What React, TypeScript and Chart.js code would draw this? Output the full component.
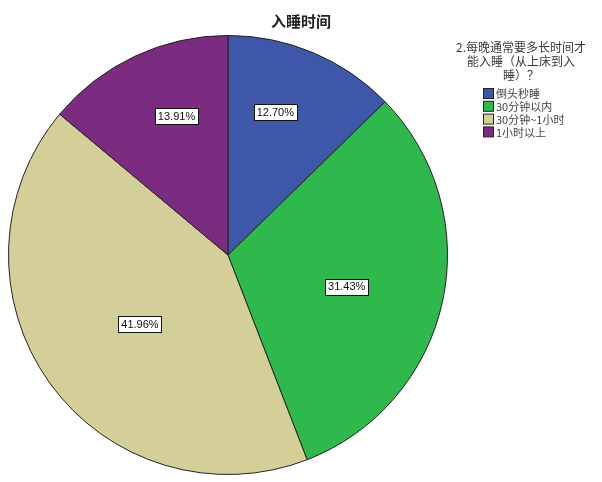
import React, { useEffect, useRef } from "react";
import { Chart, registerables } from "chart.js";

Chart.register(...registerables);

const chartTitle = "入睡时间";
const legendTitleLines = ["2.每晚通常要多长时间才", "能入睡（从上床到入", "睡）？"];
const categories = ["倒头秒睡", "30分钟以内", "30分钟~1小时", "1小时以上"];
const percents = [12.7, 31.43, 41.96, 13.91];
const colors = ["#3f57a8", "#2fb84c", "#d4cf99", "#7b2b80"];

const overlayPlugin = {
  id: "overlay",
  afterDatasetsDraw(chart: any, _args: any, opts: any) {
    const ctx = chart.ctx as CanvasRenderingContext2D;
    const meta = chart.getDatasetMeta(0);
    const radii: number[] = opts.labelRadius || [];
    const shifts: number[] = opts.labelAngleShift || [];
    ctx.save();
    ctx.font = "11px 'Liberation Sans', Arial, sans-serif";
    ctx.textAlign = "center";
    ctx.textBaseline = "middle";
    meta.data.forEach((arc: any, i: number) => {
      const p = arc.getProps(["x", "y", "startAngle", "endAngle", "outerRadius"], true);
      const mid = (p.startAngle + p.endAngle) / 2 + ((shifts[i] ?? 0) * Math.PI) / 180;
      const r = p.outerRadius * (radii[i] ?? 0.6);
      const cx = p.x + Math.cos(mid) * r;
      const cy = p.y + Math.sin(mid) * r;
      const text = percents[i].toFixed(2) + "%";
      const w = ctx.measureText(text).width + 6;
      const h = 16;
      ctx.fillStyle = "#ffffff";
      ctx.fillRect(Math.round(cx - w / 2) + 0.5, Math.round(cy - h / 2) + 0.5, Math.round(w), h);
      ctx.strokeStyle = "#111111";
      ctx.lineWidth = 1;
      ctx.strokeRect(Math.round(cx - w / 2) + 0.5, Math.round(cy - h / 2) + 0.5, Math.round(w), h);
      ctx.fillStyle = "#111111";
      ctx.fillText(text, cx, cy + 0.5);
    });
    ctx.restore();
  },
  afterDraw(chart: any) {
    const ctx = chart.ctx as CanvasRenderingContext2D;
    ctx.save();
    // Title
    ctx.fillStyle = "#222222";
    ctx.font = "bold 15px 'Noto Sans CJK SC', sans-serif";
    ctx.textAlign = "center";
    ctx.textBaseline = "middle";
    ctx.fillText(chartTitle, chart.width / 2, 21);
    // Legend title
    ctx.fillStyle = "#3a3a3a";
    ctx.font = "12px 'Noto Sans CJK SC', sans-serif";
    legendTitleLines.forEach((line, i) => {
      ctx.fillText(line, 521, 47 + i * 14);
    });
    // Legend items
    ctx.textAlign = "left";
    ctx.font = "11px 'Noto Sans CJK SC', sans-serif";
    categories.forEach((c, i) => {
      const y = 94 + i * 12.8;
      ctx.fillStyle = colors[i];
      ctx.fillRect(483.5, y - 5.5, 10, 10);
      ctx.strokeStyle = "#222222";
      ctx.lineWidth = 1;
      ctx.strokeRect(483.5, y - 5.5, 10, 10);
      ctx.fillStyle = "#444444";
      ctx.fillText(c, 496, y);
    });
    ctx.restore();
  },
};

export default function App() {
  const ref = useRef<HTMLCanvasElement>(null);
  useEffect(() => {
    if (!ref.current) return;
    const chart = new Chart(ref.current, {
      type: "pie",
      data: {
        labels: categories,
        datasets: [
          {
            data: percents,
            backgroundColor: colors,
            borderColor: "#222222",
            borderWidth: 1,
          },
        ],
      },
      options: {
        responsive: false,
        animation: false,
        layout: { padding: { left: 8, right: 154, top: 34, bottom: 6 } },
        plugins: {
          legend: { display: false },
          tooltip: { enabled: false },
          title: { display: false },
          overlay: {
            labelRadius: [0.685, 0.56, 0.51, 0.675],
            labelAngleShift: [-4.5, 2.7, -2.5, 4.7],
          },
        } as any,
      },
      plugins: [overlayPlugin],
    });
    return () => chart.destroy();
  }, []);
  return (
    <div style={{ position: "absolute", left: 0, top: 0, width: 602, height: 482, background: "#fff" }}>
      <canvas ref={ref} width={602} height={482} style={{ width: 602, height: 482 }} />
    </div>
  );
}
